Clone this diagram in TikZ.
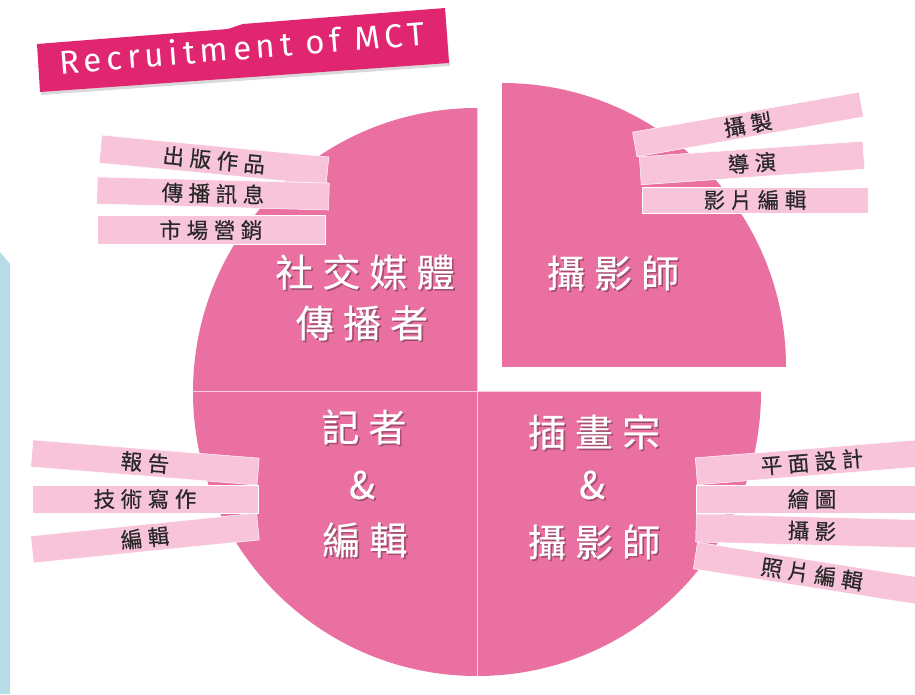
\documentclass[tikz,border=0pt]{standalone}
\usepackage{fontspec}
\setmainfont{Noto Sans CJK TC}
\newfontfamily\cjkbig{Noto Sans CJK TC}[LetterSpace=24, FakeBold=0.4]
\newfontfamily\cjksmall{Noto Sans CJK TC}[LetterSpace=26, FakeBold=0.4]
\newfontfamily\titlefont{Fira Sans}[LetterSpace=15]
\definecolor{piepink}{RGB}{233,112,160}
\definecolor{strippink}{RGB}{247,196,218}
\definecolor{bannerpink}{RGB}{224,38,113}
\definecolor{sepline}{RGB}{248,205,222}
\definecolor{edgeblue}{RGB}{184,220,229}
\definecolor{labelgray}{RGB}{40,40,40}
\newcommand\qlabel[3]{%
  \node[qshadow, xshift=1.6pt, yshift=-1.6pt] (#1s) at (#2) {#3};
  \node[qtext] (#1) at (#2) {#3};}
\begin{document}
\begin{tikzpicture}[x=1pt,y=1pt,
  quad/.style={fill=piepink},
  stripbox/.style={fill=strippink, draw=white, line width=0.5pt, inner sep=0pt,
    font=\cjksmall\fontsize{21.5}{23}\selectfont, text=labelgray},
  qtext/.style={text=white, font=\cjkbig\fontsize{38}{40}\selectfont, inner sep=0pt},
  qshadow/.style={text=black, opacity=0.28, font=\cjkbig\fontsize{38}{40}\selectfont, inner sep=0pt},
]
\useasboundingbox (0,0) rectangle (915,694);
\fill[white] (0,0) rectangle (915,694);
% left blue edge
\fill[edgeblue] (0,442) -- (10,430) -- (10,0) -- (0,0) -- cycle;
% pie
\coordinate (C) at (477,302);
\coordinate (E) at (502,327);
\fill[quad] (C) -- ++(90:284pt) arc[start angle=90, end angle=180, radius=284pt] -- cycle;
\fill[quad] (C) -- ++(180:284pt) arc[start angle=180, end angle=270, radius=284pt] -- cycle;
\fill[quad] (C) -- ++(270:284pt) arc[start angle=270, end angle=360, radius=284pt] -- cycle;
\fill[quad] (E) -- ++(0:284pt) arc[start angle=0, end angle=90, radius=284pt] -- cycle;
\coordinate (Ctop) at (477,586);
\coordinate (Cbot) at (477,18);
\coordinate (Cleft) at (193,302);
\coordinate (Cright) at (761,302);
\draw[sepline, line width=1pt] (Ctop) -- (Cbot);
\draw[sepline, line width=1pt] (Cleft) -- (Cright);
% title banner
\fill[black, opacity=0.15] (38,648) -- (228,663) -- (243,668) -- (445,684) -- (450,628) -- (41,599) -- cycle;
\fill[bannerpink] (37,650) -- (228,665) -- (243,670) -- (445,686) -- (449,631) -- (40,602) -- cycle;
\node[text=white, font=\titlefont\fontsize{33}{36}\selectfont, rotate=4.5, inner sep=0pt] (title) at (242,647) {Recruitment of MCT};
% strips top-left
\node[stripbox, minimum width=228pt, minimum height=28pt, rotate=-5.5] (tl1) at (214,534) {出版作品};
\node[stripbox, minimum width=232pt, minimum height=27pt, rotate=-1.5] (tl2) at (213,500.5) {傳播訊息};
\node[stripbox, minimum width=228pt, minimum height=29pt] (tl3) at (211,464) {市場營銷};
% strips top-right
\node[stripbox, minimum width=230pt, minimum height=25pt, rotate=10] (tr1) at (748,569.5) {攝製};
\node[stripbox, minimum width=224pt, minimum height=28pt, rotate=4] (tr2) at (752,531) {導演};
\node[stripbox, minimum width=226pt, minimum height=26pt] (tr3) at (755,494) {影片編輯};
% strips bottom-left
\node[stripbox, minimum width=227pt, minimum height=27pt, rotate=-4.6] (bl1) at (145,231.5) {報告};
\node[stripbox, minimum width=226pt, minimum height=28pt] (bl2) at (145,195) {技術寫作};
\node[stripbox, minimum width=227pt, minimum height=27pt, rotate=5.8] (bl3) at (145,156) {編輯};
% strips bottom-right
\node[stripbox, minimum width=232pt, minimum height=27pt, rotate=4.6] (br1) at (812,232) {平面設計};
\node[stripbox, minimum width=232pt, minimum height=28pt] (br2) at (812,195) {繪圖};
\node[stripbox, minimum width=232pt, minimum height=28pt, rotate=-1.5] (br3) at (812,163) {攝影};
\node[stripbox, minimum width=236pt, minimum height=27pt, rotate=-9] (br4) at (812,120) {照片編輯};
% quadrant labels
\qlabel{q1a}{365,422}{社交媒體}
\qlabel{q1b}{362,371}{傳播者}
\qlabel{q2}{613,421}{攝影師}
\qlabel{q3a}{364,267}{記者}
\qlabel{q3b}{362,209}{\&}
\qlabel{q3c}{365,154}{編輯}
\qlabel{q4a}{594,262}{插畫宗}
\qlabel{q4b}{592,209}{\&}
\qlabel{q4c}{594,152}{攝影師}
\end{tikzpicture}
\end{document}
